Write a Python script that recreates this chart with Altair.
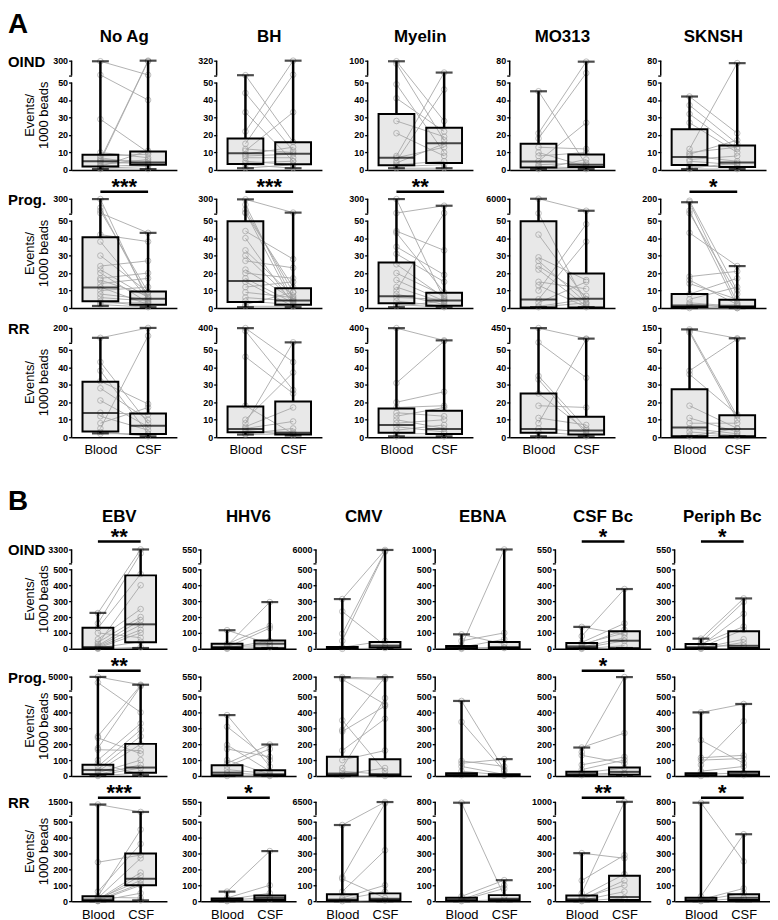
import altair as alt
import pandas as pd

FONT = "Liberation Sans"

ROWS = ["OIND", "Prog.", "RR"]
A_ANTIGENS = ["No Ag", "BH", "Myelin", "MO313", "SKNSH"]
B_ANTIGENS = ["EBV", "HHV6", "CMV", "EBNA", "CSF Bc", "Periph Bc"]
X_LABELS = ["Blood", "CSF"]

# top label of the broken (upper) axis segment
A_TOPS = [[300, 320, 100, 80, 80], [300, 300, 300, 6000, 200], [200, 400, 400, 450, 150]]
B_TOPS = [[3300, 550, 6000, 1000, 550, 550], [5000, 550, 2000, 550, 800, 550], [1500, 550, 6500, 800, 1000, 800]]

A_SIG = [["", "", "", "", ""], ["***", "***", "**", "", "*"], ["", "", "", "", ""]]
B_SIG = [["**", "", "", "", "*", "*"], ["**", "", "", "", "*", ""], ["***", "*", "", "", "**", "*"]]

# box stats [min, q1, median, q3, max]
A_BLOOD = [
    [[0.5, 2, 5, 8.7, 290], [1, 3.4, 9.5, 18, 56], [1, 2.7, 7, 32, 98], [0.5, 1.4, 4.8, 15, 45], [0.5, 2.8, 7.4, 23.3, 42]],
    [[1.2, 3.9, 11.8, 40.5, 295], [0.5, 3.4, 15.5, 49.6, 290], [0.5, 2.8, 6.8, 26, 295], [0.5, 0.3, 4.9, 49.6, 6000], [0, 0.6, 1.5, 8.1, 165]],
    [[2.2, 3.3, 13.9, 31.7, 100], [1.5, 2.8, 4.7, 17.5, 395], [0.5, 2.5, 7, 16.4, 395], [0.5, 2.5, 4.7, 25, 445], [0.5, 0.6, 5.5, 27.4, 140]],
]
A_CSF = [
    [[0.5, 3, 4.3, 10.6, 300], [1, 3.2, 9.3, 15.9, 320], [1, 4, 15.3, 24.2, 60], [0.5, 1.7, 3, 8.9, 78], [0.5, 1.7, 4.2, 14, 75]],
    [[0.5, 1.9, 5.3, 9.5, 43], [0.5, 1.9, 4.3, 11.3, 67], [0.5, 1.3, 4.3, 8.7, 183], [0.5, 0.3, 5.3, 19.8, 1200], [0, 0.6, 1.1, 4.7, 24]],
    [[0.5, 1.9, 6.5, 13.5, 200], [1, 1.5, 2.6, 20.4, 60], [0.5, 1.9, 4.7, 15.1, 107], [0.5, 1.5, 3.8, 11.7, 162], [0.5, 0.6, 4.7, 12.5, 80]],
]
B_BLOOD = [
    [[0, 3, 11, 132, 226], [0, 5, 12, 32, 117], [0, 3, 6, 11, 313], [0, 3, 8, 17, 91], [0, 4, 15, 36, 138], [0, 4, 10, 30, 64]],
    [[0, 11, 38, 70, 4900], [0, 5, 21, 68, 383], [0, 4, 15, 121, 1950], [0, 3, 6, 17, 472], [0, 4, 11, 26, 179], [0, 3, 6, 17, 400]],
    [[0, 3, 10, 31, 1300], [0, 3, 8, 17, 60], [0, 4, 10, 43, 479], [0, 3, 8, 21, 780], [0, 4, 12, 36, 302], [0, 3, 8, 21, 780]],
]
B_CSF = [
    [[5, 42, 154, 462, 3300], [5, 4, 32, 53, 294], [5, 8, 20, 43, 5800], [0, 5, 11, 43, 1000], [5, 4, 51, 110, 376], [0, 5, 19, 110, 317]],
    [[5, 21, 53, 202, 2300], [0, 4, 11, 36, 198], [0, 4, 11, 106, 1950], [0, 2, 5, 11, 106], [5, 8, 26, 53, 790], [0, 4, 11, 26, 453]],
    [[5, 100, 141, 300, 750], [5, 8, 20, 36, 315], [0, 5, 15, 49, 6400], [0, 5, 15, 38, 132], [5, 8, 26, 160, 1000], [0, 8, 21, 43, 421]],
]

# paired subjects [blood, csf]
A_OIND_PAIRS = [
    [[290, 60], [60, 40], [29, 10], [6, 300], [5, 290], [10, 7], [8, 9], [6, 5], [5, 3.5], [4, 4], [3, 6], [2, 3], [1, 2], [0.5, 0.5], [2, 11], [7, 3]],
    [[56, 16], [44, 11], [33, 5], [22, 320], [15, 65], [11, 33], [9, 13], [8, 9], [7, 7], [5, 3], [3, 1], [1, 3], [12, 10], [4, 5]],
    [[98, 28], [90, 17], [49, 10], [41, 22], [28, 19], [21, 8], [8, 60], [5, 46], [4, 15], [3, 5], [2, 3], [1, 1], [7, 13]],
    [[45, 3], [21, 78], [18, 55], [13, 12], [10, 2], [8, 10], [5, 27], [3, 4], [2, 1], [1, 0.5], [0.5, 6]],
    [[42, 21], [37, 15], [32, 12], [27, 10], [12, 75], [9, 17], [8, 5], [6, 8], [5, 3], [3, 1], [2, 2], [1, 4], [0.5, 0.5], [10, 13]],
]
A_PROG_PAIRS = [
    [[295, 4], [150, 6], [100, 9], [60, 43], [42, 38], [38, 5], [24, 27], [20, 3], [17, 20], [16, 7], [14, 17], [12, 2], [10, 12], [8, 5], [6, 4], [4, 1], [3, 3], [2, 0.5], [22, 6], [30, 9]],
    [[290, 67], [200, 5], [120, 9], [70, 3], [60, 12], [44, 28], [40, 2], [33, 7], [30, 4], [27, 23], [22, 5], [20, 17], [17, 3], [15, 1], [12, 15], [9, 6], [6, 4], [4, 2], [2, 9], [1, 1]],
    [[60, 183], [295, 5], [44, 33], [43, 9], [35, 19], [31, 15], [20, 7], [16, 4], [12, 3], [10, 60], [8, 2], [6, 5], [4, 1], [2, 0.5], [1, 4], [25, 6]],
    [[6000, 1200], [200, 2], [42, 5], [29, 16], [27, 3], [24, 7], [22, 1], [15, 11], [13, 0.5], [10, 48], [5, 38], [3, 15], [1, 5], [0.5, 3]],
    [[180, 10], [165, 3], [80, 1], [55, 8], [43, 24], [18, 21], [16, 2], [14, 5], [8, 17], [5, 12], [3, 1], [2, 0], [1, 2], [0, 0]],
]
A_RR_PAIRS = [
    [[100, 200], [43, 8], [38, 2], [32, 19], [28, 10], [21, 6], [14, 13], [12, 4], [8, 17], [5, 120], [3, 0.5], [2, 2]],
    [[395, 43], [330, 27], [46, 25], [18, 2], [10, 37], [8, 60], [6, 17], [5, 9], [4, 1], [3, 3], [2, 5], [1.5, 2]],
    [[395, 107], [31, 90], [20, 26], [17, 18], [14, 12], [10, 5], [8, 10], [6, 3], [4, 7], [2, 2], [0.5, 0.5], [12, 17]],
    [[445, 162], [60, 34], [35, 5], [33, 2], [18, 17], [11, 7], [8, 150], [5, 3], [3, 1], [0.5, 0.5], [25, 4]],
    [[140, 80], [130, 12], [120, 10], [38, 75], [36, 13], [18, 5], [11, 3], [8, 8], [5, 2], [3, 1], [1, 0.5], [0.5, 5]],
]
B_OIND_PAIRS = [
    [[225, 3300], [160, 2500], [130, 470], [60, 250], [40, 200], [20, 180], [15, 150], [10, 120], [5, 100], [100, 70], [5, 45], [0, 10], [30, 400]],
    [[20, 294], [117, 30], [30, 145], [10, 130], [5, 50], [15, 20], [0, 10]],
    [[313, 5800], [95, 5300], [50, 5100], [235, 20], [10, 50], [0, 5]],
    [[91, 30], [50, 100], [20, 1000], [10, 60], [5, 10], [0, 5]],
    [[138, 90], [80, 376], [40, 160], [20, 120], [10, 70], [5, 50], [0, 20], [30, 100]],
    [[64, 317], [40, 295], [20, 220], [30, 140], [10, 120], [5, 60], [0, 40], [15, 20]],
]
B_PROG_PAIRS = [
    [[4900, 2300], [3000, 400], [250, 2100], [240, 140], [175, 1800], [165, 160], [100, 330], [60, 290], [40, 250], [30, 200], [20, 100], [10, 70], [5, 50], [0, 20], [80, 10]],
    [[383, 60], [310, 100], [195, 30], [170, 120], [100, 10], [80, 198], [60, 170], [40, 15], [20, 5], [0, 0]],
    [[1950, 1800], [1800, 1700], [1700, 450], [350, 30], [290, 1950], [280, 440], [160, 360], [100, 160], [50, 490], [30, 10], [10, 50], [0, 0]],
    [[472, 40], [340, 30], [95, 60], [80, 106], [60, 10], [30, 5], [5, 2]],
    [[179, 270], [150, 790], [130, 80], [70, 120], [40, 100], [20, 50], [10, 20], [5, 10]],
    [[400, 453], [225, 80], [115, 130], [100, 110], [70, 345], [30, 60], [10, 20], [0, 5]],
]
B_RR_PAIRS = [
    [[1300, 750], [245, 290], [60, 360], [30, 450], [20, 270], [10, 180], [5, 160], [15, 130], [8, 110], [2, 100], [0, 50], [25, 20], [3, 5]],
    [[60, 315], [20, 100], [10, 50], [5, 25], [0, 10]],
    [[479, 6400], [150, 5800], [140, 20], [60, 320], [20, 100], [10, 60], [0, 5]],
    [[780, 30], [30, 132], [10, 100], [5, 80], [0, 10]],
    [[302, 270], [130, 290], [50, 1000], [30, 170], [10, 130], [20, 100], [5, 60], [0, 20]],
    [[780, 250], [30, 421], [10, 80], [5, 50], [0, 20]],
]
A_PAIRS = [A_OIND_PAIRS, A_PROG_PAIRS, A_RR_PAIRS]
B_PAIRS = [B_OIND_PAIRS, B_PROG_PAIRS, B_RR_PAIRS]

BOX_FILL = "#e8e8e8"
GRAY_LINE = "#a9a9a9"
GRAY_PT = "#999999"


def to_disp(v, L, top):
    """Broken axis: 0..L linear, then L..top squeezed into a short upper segment."""
    lo, hi = round(L * 1.08, 6), L * 1.25
    if v <= L:
        return v
    v = min(v, top)
    return lo + (v - L) / (top - L) * (hi - lo)


def panel(cfg, r, c, title, top, blood, csf, pairs, sig, ext):
    L, W, H, BW = cfg["L"], cfg["W"], cfg["H"], cfg["BW"]
    lo, hi = round(L * 1.08, 6), L * 1.25
    step = L // 5
    tick_vals = [step * i for i in range(6)] + [lo, hi]
    y_expr = f"datum.value == {hi} ? '{top}' : (datum.value == {lo} ? '' : datum.label)"
    yaxis = alt.Axis(values=tick_vals, labelExpr=y_expr, domain=False, ticks=True, tickSize=3,
                     tickWidth=1.3, tickColor="black", labelFont=FONT, labelFontSize=9,
                     labelFontWeight="bold", labelColor="black", labelPadding=1, grid=False,
                     title=None, labelOverlap=False)
    bottom = r == 2
    xaxis = alt.Axis(values=[0, 1], labelExpr="datum.value == 0 ? 'Blood' : 'CSF'", labels=bottom,
                     ticks=False, domain=True, domainColor="black", domainWidth=1.5, grid=False,
                     title=None, labelFontSize=13, labelFont=FONT, labelColor="black",
                     labelPadding=cfg["xpad"], labelFlush=False)
    xs = alt.Scale(domain=[-0.5, 1.5], nice=False, zero=False)
    ys = alt.Scale(domain=[0, hi], nice=False, zero=True)

    def X(f):
        return alt.X(f, type="quantitative", scale=xs, axis=xaxis)

    def Y(f):
        return alt.Y(f, type="quantitative", scale=ys, axis=yaxis)

    seg = pd.DataFrame({"y0": [0, lo], "y1": [L, hi]})
    boxes = pd.DataFrame({
        "x": [0, 1],
        "mn": [to_disp(s[0], L, top) for s in (blood, csf)],
        "q1": [to_disp(s[1], L, top) for s in (blood, csf)],
        "med": [to_disp(s[2], L, top) for s in (blood, csf)],
        "q3": [to_disp(s[3], L, top) for s in (blood, csf)],
        "mx": [to_disp(s[4], L, top) for s in (blood, csf)],
    })
    rows = []
    for i, (b, cv) in enumerate(pairs):
        rows.append({"id": i, "x": 0, "y": to_disp(b, L, top)})
        rows.append({"id": i, "x": 1, "y": to_disp(cv, L, top)})
    pts = pd.DataFrame(rows)

    layers = []
    layers.append(alt.Chart(seg).mark_rule(color="black", strokeWidth=1.5).encode(
        x=alt.value(0), y=Y("y0"), y2="y1"))
    layers.append(alt.Chart(boxes).mark_bar(size=BW, color=BOX_FILL).encode(
        x=X("x"), y=Y("q1"), y2="q3"))
    layers.append(alt.Chart(pts).mark_line(color=GRAY_LINE, strokeWidth=0.9).encode(
        x=X("x"), y=Y("y"), detail="id:N"))
    layers.append(alt.Chart(pts).mark_point(shape="circle", filled=False, color=GRAY_PT, size=32,
                                            strokeWidth=0.9).encode(x=X("x"), y=Y("y")))
    layers.append(alt.Chart(boxes).mark_rule(color="black", strokeWidth=2.5).encode(
        x=X("x"), y=Y("mx"), y2="q3"))
    layers.append(alt.Chart(boxes).mark_rule(color="black", strokeWidth=2.5).encode(
        x=X("x"), y=Y("q1"), y2="mn"))
    layers.append(alt.Chart(boxes).mark_bar(size=BW, fillOpacity=0, stroke="black", strokeWidth=2).encode(
        x=X("x"), y=Y("q1"), y2="q3"))
    layers.append(alt.Chart(boxes).mark_tick(orient="horizontal", size=BW, thickness=2, color="black").encode(
        x=X("x"), y=Y("med")))
    layers.append(alt.Chart(boxes).mark_tick(orient="horizontal", size=17, thickness=2.2, color="black").encode(
        x=X("x"), y=Y("mx")))
    layers.append(alt.Chart(boxes).mark_tick(orient="horizontal", size=17, thickness=2.2, color="black").encode(
        x=X("x"), y=Y("mn")))

    if sig:
        sy = cfg["sig_y"][r]
        sdf = pd.DataFrame({"x": [0], "x2": [1], "xm": [0.5], "t": [sig]})
        layers.append(alt.Chart(sdf).mark_rule(color="black", strokeWidth=2.5).encode(
            x=X("x"), x2="x2", y=alt.value(sy)))
        layers.append(alt.Chart(sdf).mark_text(font=FONT, fontSize=22, fontWeight="bold", color="black",
                                               baseline="alphabetic", align="center").encode(
            x=X("xm"), y=alt.value(sy + 2), text="t:N"))
    if r == 0:
        tdf = pd.DataFrame({"xm": [0.5], "t": [title]})
        layers.append(alt.Chart(tdf).mark_text(font=FONT, fontSize=17, fontWeight="bold", color="black",
                                               baseline="middle", align="center").encode(
            x=X("xm"), y=alt.value(cfg["title_y"]), text="t:N"))
    if c == 0:
        rdf = pd.DataFrame({"t": [ROWS[r]]})
        # invisible extent marker: fixes the row's vertical extent for the outer layout
        layers.append(alt.Chart(rdf).mark_rule(opacity=0, strokeWidth=0.01).encode(
            x=alt.value(0), y=alt.value(-ext[0]), y2=alt.value(H + ext[1])))
        layers.append(alt.Chart(rdf).mark_text(font=FONT, fontSize=15, fontWeight="bold", color="black",
                                               baseline="alphabetic", align="left").encode(
            x=alt.value(-64), y=alt.value(6), text="t:N"))
        layers.append(alt.Chart(rdf).mark_text(font=FONT, fontSize=13, color="black", angle=270,
                                               baseline="middle", align="center", lineHeight=14,
                                               text=["Events/", "1000 beads"]).encode(
            x=alt.value(-42), y=alt.value(H / 2)))
        if r == 0:
            ldf = pd.DataFrame({"t": [cfg["letter"]]})
            layers.append(alt.Chart(ldf).mark_text(font=FONT, fontSize=28, fontWeight="bold", color="black",
                                                   baseline="top", align="left").encode(
                x=alt.value(-64), y=alt.value(cfg["letter_y"]), text="t:N"))
    return alt.layer(*layers).properties(width=W, height=H)


def spacer(w, h):
    return alt.Chart(pd.DataFrame({"v": [0]})).mark_point(opacity=0).encode(
        x=alt.value(0), y=alt.value(0)).properties(width=w, height=h)


CFG_A = {"L": 50, "W": 106, "H": 110, "BW": 36, "xpad": 6, "title_y": -24,
         "sig_y": [-7, -7, -7], "letter": "A", "letter_y": -50}
CFG_B = {"L": 500, "W": 96, "H": 100, "BW": 31, "xpad": 7, "title_y": -33,
         "sig_y": [-8, -6, -4], "letter": "B", "letter_y": -62}
GAPS_A = [40, 46, 37, 46]
GAPS_B = [34, 20, 24, 25, 24]
# (space above plot top, space below plot bottom) reserved per row -> sets the vertical gaps
EXT_A = [(50, 6), (20, 6), (14, 25)]
EXT_B = [(88, 6), (19, 6), (19, 25)]


def make_row(panels, gaps, H):
    cells = [panels[0]]
    for p, g in zip(panels[1:], gaps):
        cells.append(spacer(g, H))
        cells.append(p)
    return alt.hconcat(*cells, spacing=0, bounds="flush")


rows_out = []
for cfg, ants, tops, bl, cs, prs, sg, gaps, ncol, exts in [
    (CFG_A, A_ANTIGENS, A_TOPS, A_BLOOD, A_CSF, A_PAIRS, A_SIG, GAPS_A, 5, EXT_A),
    (CFG_B, B_ANTIGENS, B_TOPS, B_BLOOD, B_CSF, B_PAIRS, B_SIG, GAPS_B, 6, EXT_B),
]:
    for r in range(3):
        ps = [panel(cfg, r, c, ants[c], tops[r][c], bl[r][c], cs[r][c], prs[r][c], sg[r][c], exts[r])
              for c in range(ncol)]
        rows_out.append(make_row(ps, gaps, cfg["H"]))

chart = alt.vconcat(*rows_out, spacing=0, bounds="full").properties(
    padding={"left": 0, "top": 0, "right": 0, "bottom": 0}
).configure(font=FONT).configure_view(stroke=None)

chart.save("out.html", embed_options={"renderer": "svg", "actions": False})
